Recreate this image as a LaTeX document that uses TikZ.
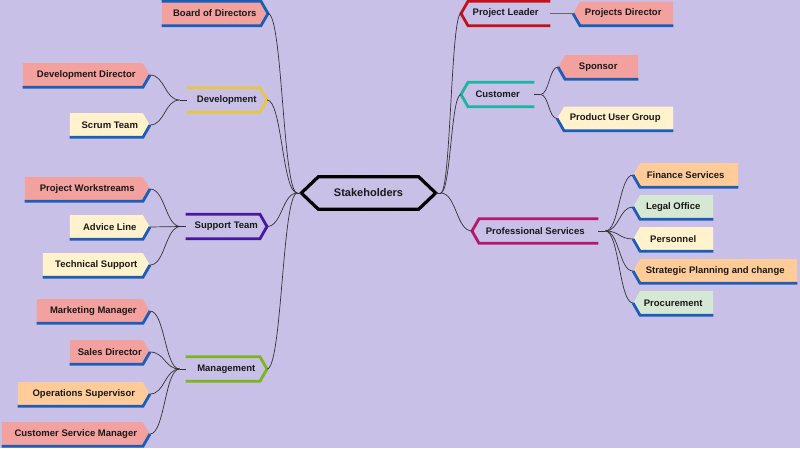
\documentclass[tikz,border=0pt]{standalone}
\usepackage{fontspec}
\newfontfamily\labelsans{Liberation Sans}
\usetikzlibrary{calc}

\definecolor{bgc}{HTML}{C8C0E6}
\definecolor{pinkc}{HTML}{F2A19E}
\definecolor{creamc}{HTML}{FFF2CC}
\definecolor{peachc}{HTML}{FFCC99}
\definecolor{greenc}{HTML}{D5E8D4}
\definecolor{bluec}{HTML}{1C5DB8}
\definecolor{devc}{HTML}{E8C83A}
\definecolor{supc}{HTML}{4A16A6}
\definecolor{mgmtc}{HTML}{7CB51C}
\definecolor{leadc}{HTML}{C0121C}
\definecolor{custc}{HTML}{1FB3A2}
\definecolor{profc}{HTML}{B3186C}

\tikzset{
  lbl/.style={font=\labelsans\bfseries\fontsize{9.5}{11}\selectfont, text=black!90,
    inner ysep=0pt, inner xsep=4pt, minimum height=24pt},
  % leaf pointing right (left half of the map)
  leafl/.style={lbl, anchor=east,
    path picture={\fill[#1] (path picture bounding box.north west)
      -- ([xshift=-7pt]path picture bounding box.north east)
      -- (path picture bounding box.east)
      -- ([xshift=-7pt]path picture bounding box.south east)
      -- (path picture bounding box.south west) -- cycle;}},
  % leaf pointing left (right half of the map)
  leafr/.style={lbl, anchor=west,
    path picture={\fill[#1] (path picture bounding box.north east)
      -- ([xshift=7pt]path picture bounding box.north west)
      -- (path picture bounding box.west)
      -- ([xshift=7pt]path picture bounding box.south west)
      -- (path picture bounding box.south east) -- cycle;}},
  catl/.style={lbl, anchor=east},
  catr/.style={lbl, anchor=west},
  edgeblue/.style={bluec, line width=2.8pt},
  link/.style={draw=black!80, line width=0.7pt,
    to path={let \p1=(\tikztostart), \p2=(\tikztotarget) in
      .. controls ({(\x1+\x2)/2},\y1) and ({(\x1+\x2)/2},\y2) .. (\tikztotarget)}},
}

\begin{document}
\begin{tikzpicture}[x=1pt, y=-1pt]
\fill[bgc] (0, 0) rectangle (800, 448);
\useasboundingbox (0, 0) rectangle (800, 448);

% centre
\node[lbl, font=\labelsans\bfseries\fontsize{11}{13}\selectfont,
  minimum width=134pt, minimum height=32pt] (hub) at (368.5, 193) {Stakeholders};

% left branches
\node[leafl=pinkc, minimum width=106pt] (board) at (268, 13.5) {Board of Directors};
\node[catl, minimum width=80pt] (dev) at (267, 100) {Development};
\node[catl, minimum width=81pt] (sup) at (267, 226.5) {Support Team};
\node[catl, minimum width=81pt] (mgmt) at (267, 369) {Management};

\node[leafl=pinkc, minimum width=127pt] (devdir) at (150, 75) {Development Director};
\node[leafl=creamc, minimum width=80pt] (scrum) at (150, 125) {Scrum Team};
\node[leafl=pinkc, minimum width=125pt] (work) at (150, 189) {Project Workstreams};
\node[leafl=creamc, minimum width=80pt] (advice) at (150, 227) {Advice Line};
\node[leafl=creamc, minimum width=107pt] (tech) at (150, 265) {Technical Support};
\node[leafl=pinkc, minimum width=113pt] (mkt) at (150, 311) {Marketing Manager};
\node[leafl=pinkc, minimum width=80pt] (sales) at (150, 352) {Sales Director};
\node[leafl=peachc, minimum width=132pt] (ops) at (150, 394) {Operations Supervisor};
\node[leafl=pinkc, minimum width=148pt] (csm) at (150, 434) {Customer Service Manager};

% right branches
\node[catr, minimum width=89pt] (lead) at (461, 13.5) {Project Leader};
\node[catr, minimum width=73pt] (cust) at (461, 94.5) {Customer};
\node[catr, minimum width=126pt] (prof) at (472, 231) {Professional Services};

\node[leafr=pinkc, minimum width=100pt] (pdir) at (573, 13.5) {Projects Director};
\node[leafr=pinkc, minimum width=80pt] (spons) at (558, 67) {Sponsor};
\node[leafr=creamc, minimum width=116pt] (users) at (557, 118.5) {Product User Group};
\node[leafr=peachc, minimum width=105pt] (fin) at (633, 175) {Finance Services};
\node[leafr=greenc, minimum width=80pt] (legal) at (633, 207) {Legal Office};
\node[leafr=creamc, minimum width=80pt] (pers) at (633, 239) {Personnel};
\node[leafr=peachc, minimum width=164pt] (strat) at (633, 271) {Strategic Planning and change};
\node[leafr=greenc, minimum width=80pt] (proc) at (633, 303) {Procurement};

% outlines
\draw[line width=3.2pt] ([xshift=17pt]hub.north west) -- ([xshift=-17pt]hub.north east)
  -- (hub.east) -- ([xshift=-17pt]hub.south east) -- ([xshift=17pt]hub.south west)
  -- (hub.west) -- cycle;
\foreach \n/\c in {board/bluec, dev/devc, sup/supc, mgmt/mgmtc}
  \draw[\c, line width=2.8pt] (\n.north west) -- ([xshift=-7pt]\n.north east)
    -- (\n.east) -- ([xshift=-7pt]\n.south east) -- (\n.south west);
\foreach \n/\c in {lead/leadc, cust/custc, prof/profc}
  \draw[\c, line width=2.8pt] (\n.north east) -- ([xshift=7pt]\n.north west)
    -- (\n.west) -- ([xshift=7pt]\n.south west) -- (\n.south east);
\foreach \n in {devdir, scrum, work, advice, tech, mkt, sales, ops, csm}
  \draw[edgeblue] (\n.south west) -- ([xshift=-7pt]\n.south east) -- (\n.east);
\foreach \n in {pdir, spons, users, fin, legal, pers, strat, proc}
  \draw[edgeblue] (\n.south east) -- ([xshift=7pt]\n.south west) -- (\n.west);

% connectors
\draw[link] (hub.west) -- ++(-4, 0) coordinate (hubl);
\draw[link] (hub.east) -- ++(5, 0) coordinate (hubr);
\foreach \t in {board, dev, sup, mgmt}
  \draw[link] (hubl) to (\t.east);
\foreach \t in {lead, cust, prof}
  \draw[link] (hubr) to (\t.west);

\draw[link] (dev.west) -- ++(-7, 0) coordinate (devj);
\foreach \t in {devdir, scrum}
  \draw[link] (devj) to (\t.east);
\draw[link] (sup.west) -- ++(-5, 0) coordinate (supj);
\foreach \t in {work, advice, tech}
  \draw[link] (supj) to (\t.east);
\draw[link] (mgmt.west) -- ++(-6, 0) coordinate (mgmtj);
\foreach \t in {mkt, sales, ops, csm}
  \draw[link] (mgmtj) to (\t.east);

\draw[link, draw=black!60] (lead.east) -- (pdir.west);
\draw[link] (cust.east) -- ++(6, 0) coordinate (custj);
\foreach \t in {spons, users}
  \draw[link] (custj) to (\t.west);
\draw[link] (prof.east) -- ++(7, 0) coordinate (profj);
\foreach \t in {fin, legal, pers, strat, proc}
  \draw[link] (profj) to (\t.west);
\end{tikzpicture}
\end{document}
